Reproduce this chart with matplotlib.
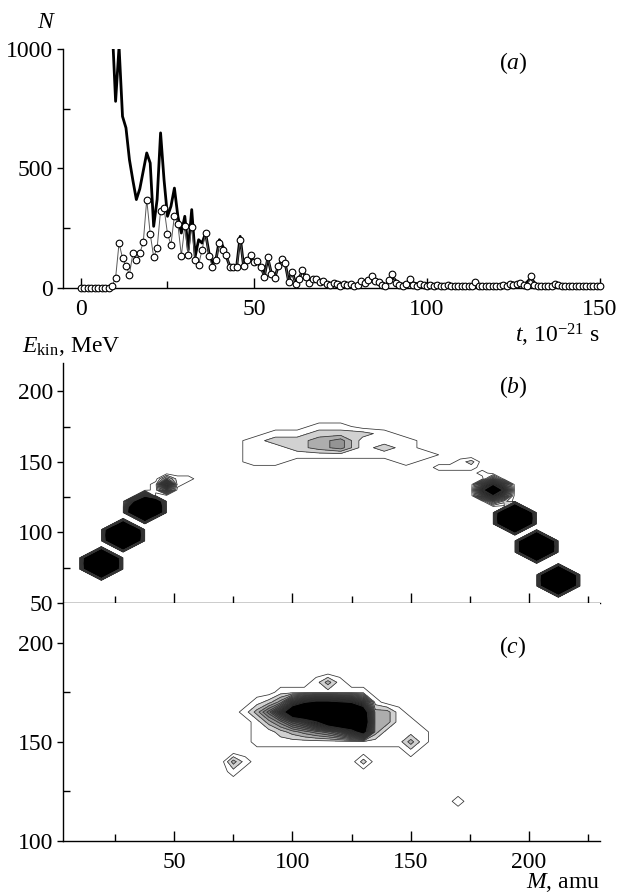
import numpy as np
import matplotlib
matplotlib.use("Agg")
import matplotlib.pyplot as plt
from matplotlib.ticker import MultipleLocator

plt.rcParams["font.family"] = "Liberation Serif"
plt.rcParams["mathtext.fontset"] = "custom"
plt.rcParams["mathtext.rm"] = "Liberation Serif"
plt.rcParams["mathtext.it"] = "Liberation Serif:italic"
plt.rcParams["font.size"] = 17

# ---- panel (a): number of events vs time ----
circ_t = np.arange(0, 151)
circ_n = [0, 0, 0, 0, 0, 0, 0, 0, 0, 10,
          42, 188, 125, 93, 56, 146, 116, 146, 191, 370,
          227, 130, 166, 324, 335, 227, 181, 303, 268, 135,
          258, 139, 254, 118, 98, 160, 230, 135, 86, 118,
          188, 160, 139, 86, 86, 86, 202, 93, 118, 139,
          107, 112, 88, 46, 130, 60, 42, 91, 121, 105,
          25, 66, 18, 38, 74, 46, 21, 38, 38, 25,
          30, 18, 14, 20, 18, 10, 15, 12, 18, 10,
          14, 28, 20, 35, 52, 30, 24, 12, 10, 32,
          60, 22, 14, 10, 18, 38, 14, 10, 16, 12,
          10, 14, 8, 12, 10, 8, 12, 10, 8, 8,
          10, 8, 8, 10, 24, 10, 7, 7, 7, 8,
          7, 10, 14, 10, 18, 12, 16, 21, 12, 10,
          52, 14, 7, 7, 7, 7, 10, 18, 12, 8,
          7, 8, 7, 10, 8, 7, 8, 10, 7, 8,
          10]

thick_t = [9, 10, 11, 12, 13, 14, 15, 16, 17, 18, 19, 20, 21, 22, 23, 24, 25,
           26, 27, 28, 29, 30, 31, 32, 33, 34, 35, 36, 37, 38, 39, 40, 41, 42,
           43, 44, 45, 46, 47, 48, 49, 50, 51, 52, 53, 54, 55, 56, 57, 58, 59,
           60, 61, 62, 63, 64, 65, 66, 67, 68, 70, 75, 80, 84, 86, 88, 90, 92,
           95, 100, 105, 110, 115, 120, 125, 128, 130, 132, 135, 140, 145, 150]
thick_n = [1100, 781, 1010, 718, 670, 537, 450, 370, 415, 490, 565, 523, 258,
           370, 649, 453, 300, 342, 418, 300, 230, 300, 160, 328, 132, 202,
           188, 230, 146, 105, 118, 202, 174, 132, 91, 91, 91, 216, 91, 118,
           132, 105, 105, 91, 49, 125, 63, 42, 91, 118, 105, 28, 70, 21, 42,
           70, 49, 28, 30, 42, 20, 12, 12, 40, 20, 10, 48, 12, 25, 8, 8, 8,
           10, 6, 12, 10, 42, 5, 6, 6, 6, 8]

# ---- panel (b): fragment peaks (fine mass bins) ----
frag_mass = [19.2, 14.6, 19.2, 23.8, 14.6, 19.2, 23.8, 14.6, 19.2, 23.8, 19.2,
             28.4, 23.8, 28.4, 33, 23.8, 28.4, 33, 23.8, 28.4, 33, 28.4,
             37.6, 33, 37.6, 42.2, 33, 37.6, 42.2, 33, 37.6, 42.2, 37.6,
             46.8, 42.2, 46.8, 51.4, 46.8, 51.4, 56, 42.2,
             184.8, 180.2, 184.8, 189.4, 180.2, 184.8, 189.4, 180.2, 184.8, 189.4,
             184.8, 189.4,
             161.8, 166.4, 171, 175.6, 171, 175.6, 180.2,
             194, 189.4, 194, 198.6, 189.4, 194, 198.6, 189.4, 194, 198.6, 194,
             203.2, 198.6, 203.2, 207.8, 198.6, 203.2, 207.8, 198.6, 203.2, 207.8, 203.2,
             212.4, 207.8, 212.4, 217, 207.8, 212.4, 217, 207.8, 212.4, 217, 212.4]
frag_energy = [70, 74, 74, 74, 78, 78, 78, 82, 82, 82, 86,
               90, 94, 94, 94, 98, 98, 98, 102, 102, 102, 106,
               110, 114, 114, 114, 118, 118, 118, 122, 122, 122, 126,
               130, 134, 134, 134, 138, 138, 138, 130,
               122, 126, 126, 126, 130, 130, 130, 134, 134, 134,
               138, 122,
               146, 146, 146, 146, 150, 150, 142,
               102, 106, 106, 106, 110, 110, 110, 114, 114, 114, 118,
               82, 86, 86, 86, 90, 90, 90, 94, 94, 94, 98,
               58, 62, 62, 62, 66, 66, 66, 70, 70, 70, 74]
frag_count = [40, 40, 45, 40, 45, 50, 45, 40, 45, 40, 40,
              40, 40, 45, 40, 45, 50, 45, 40, 45, 40, 35,
              35, 35, 45, 40, 30, 45, 40, 15, 35, 30, 12,
              8, 1, 14, 1, 4, 1, 1, 1,
              5, 8, 14, 8, 12, 30, 12, 8, 14, 8,
              5, 2,
              1, 1, 1, 1, 1, 2, 1,
              40, 40, 45, 40, 45, 50, 45, 40, 45, 40, 35,
              40, 40, 45, 40, 45, 50, 45, 40, 45, 40, 40,
              40, 40, 45, 40, 45, 50, 45, 40, 45, 40, 40]

# ---- panel (b): central (symmetric) region, coarse mass bins ----
mid_mass = [111.2, 120.4,
            92.8, 102, 111.2, 120.4, 129.6, 138.8,
            83.6, 92.8, 102, 111.2, 120.4, 129.6, 138.8, 148,
            83.6, 92.8, 102, 111.2, 120.4, 129.6, 138.8, 148,
            83.6, 92.8, 102, 111.2, 120.4, 129.6, 138.8, 148, 157.2,
            83.6, 92.8, 148]
mid_energy = [175, 175,
              170, 170, 170, 170, 170, 170,
              165, 165, 165, 165, 165, 165, 165, 165,
              160, 160, 160, 160, 160, 160, 160, 160,
              155, 155, 155, 155, 155, 155, 155, 155, 155,
              150, 150, 150]
mid_count = [1, 1,
             1, 1, 2, 2, 2, 1,
             1, 2, 2, 3, 4, 1, 1, 1,
             1, 1, 2, 3, 4, 1, 2, 1,
             1, 1, 1, 1, 1, 1, 1, 1, 1,
             1, 1, 1]

# ---- panel (c): E_kin vs M, non-empty histogram cells ----
c_mass = [110, 115, 120,
          95, 100, 105, 110, 115, 120, 125, 130,
          85, 90, 95, 100, 105, 110, 115, 120, 125, 130, 135,
          80, 85, 90, 95, 100, 105, 110, 115, 120, 125, 130, 135, 140, 145,
          85, 90, 95, 100, 105, 110, 115, 120, 125, 130, 135, 140, 145, 150,
          85, 90, 95, 100, 105, 110, 115, 120, 125, 130, 135, 140, 145, 150, 155,
          85, 90, 95, 100, 105, 110, 115, 120, 125, 130, 135, 140, 145, 150, 155,
          150, 75, 80, 130, 75, 170]
c_energy = [180, 180, 180,
            175, 175, 175, 175, 175, 175, 175, 175,
            170, 170, 170, 170, 170, 170, 170, 170, 170, 170, 170,
            165, 165, 165, 165, 165, 165, 165, 165, 165, 165, 165, 165, 165, 165,
            160, 160, 160, 160, 160, 160, 160, 160, 160, 160, 160, 160, 160, 160,
            155, 155, 155, 155, 155, 155, 155, 155, 155, 155, 155, 155, 155, 155, 155,
            150, 150, 150, 150, 150, 150, 150, 150, 150, 150, 150, 150, 150, 150, 150,
            145, 140, 140, 140, 135, 120]
c_count = [1, 3, 1,
           1, 1, 1, 1, 1, 1, 1, 1,
           1, 2, 4, 10, 14, 16, 16, 15, 14, 10, 1,
           1, 3, 6, 11, 22, 26, 28, 28, 28, 26, 20, 3, 3, 1,
           1, 3, 5, 8, 10, 14, 20, 24, 24, 22, 3, 3, 1, 1,
           1, 1, 2, 3, 4, 5, 6, 8, 12, 18, 3, 1, 1, 1, 1,
           1, 1, 1, 1, 1, 1, 1, 1, 1, 1, 1, 1, 1, 3, 1,
           1, 3, 1, 2, 1, 1]


def build_grid(m_nodes, e_nodes, ms, es, cs):
    z = np.zeros((len(e_nodes), len(m_nodes)))
    for m, e, c in zip(ms, es, cs):
        i = np.argmin(np.abs(e_nodes - e))
        j = np.argmin(np.abs(m_nodes - m))
        z[i, j] = c
    return z


levels = np.arange(0.5, 15, 1.0)
fill_colors = ["white", "0.82", "0.68", "0.58", "0.5", "0.43", "0.37", "0.31",
               "0.26", "0.21", "0.17", "0.13", "0.09", "0.05", "black"]


def draw_map(ax, m_nodes, e_nodes, z):
    ax.contourf(m_nodes, e_nodes, z, levels=levels, colors=fill_colors, extend="max")
    ax.contour(m_nodes, e_nodes, z, levels=levels, colors="0.2", linewidths=0.55)


def style(ax):
    ax.spines["top"].set_visible(False)
    ax.spines["right"].set_visible(False)
    ax.spines["left"].set_linewidth(1.0)
    ax.spines["bottom"].set_linewidth(1.0)
    ax.tick_params(axis="x", which="major", direction="in", length=7, width=1, pad=8)
    ax.tick_params(axis="x", which="minor", direction="in", length=5, width=1)
    ax.tick_params(axis="y", which="major", direction="out", length=4, width=1, pad=3)
    ax.tick_params(axis="y", which="minor", direction="in", length=5, width=1)


fig = plt.figure(figsize=(6.21, 8.96), dpi=100)
W, H = 621, 896
ax_a = fig.add_axes([63 / W, 1 - 288 / H, 537 / W, 239 / H])
ax_b = fig.add_axes([63 / W, 1 - 603 / H, 537 / W, 240 / H])
ax_c = fig.add_axes([63 / W, 1 - 841 / H, 537 / W, 238 / H])

# panel (a)
ax_a.plot(thick_t, thick_n, color="black", lw=2.0, zorder=3)
ax_a.plot(circ_t, circ_n, color="0.35", lw=0.7, marker="o", ms=4.8,
          mfc="white", mec="black", mew=0.8, zorder=4, clip_on=False)
ax_a.set_xlim(-5.2, 150)
ax_a.set_ylim(0, 1000)
ax_a.xaxis.set_major_locator(MultipleLocator(50))
ax_a.xaxis.set_minor_locator(MultipleLocator(25))
ax_a.yaxis.set_major_locator(MultipleLocator(500))
ax_a.yaxis.set_minor_locator(MultipleLocator(250))
style(ax_a)

# panel (b)
fine_m = np.arange(0.8, 236, 4.6)
fine_e = np.arange(42, 230, 4.0)
draw_map(ax_b, fine_m, fine_e,
         build_grid(fine_m, fine_e, frag_mass, frag_energy, frag_count))
coarse_m = np.arange(0.8, 236, 9.2)
coarse_e = np.arange(40, 230, 5.0)
draw_map(ax_b, coarse_m, coarse_e,
         build_grid(coarse_m, coarse_e, mid_mass, mid_energy, mid_count))
ax_b.set_xlim(3, 230)
ax_b.set_ylim(50, 220)
ax_b.xaxis.set_major_locator(MultipleLocator(50))
ax_b.xaxis.set_minor_locator(MultipleLocator(25))
ax_b.yaxis.set_major_locator(MultipleLocator(50))
ax_b.yaxis.set_minor_locator(MultipleLocator(25))
style(ax_b)
ax_b.tick_params(labelbottom=False)

# panel (c)
c_m_nodes = np.arange(0, 245, 5.0)
c_e_nodes = np.arange(95, 230, 5.0)
draw_map(ax_c, c_m_nodes, c_e_nodes,
         build_grid(c_m_nodes, c_e_nodes, c_mass, c_energy, c_count))
ax_c.set_xlim(3, 230)
ax_c.set_ylim(100, 220)
ax_c.xaxis.set_major_locator(MultipleLocator(50))
ax_c.xaxis.set_minor_locator(MultipleLocator(25))
ax_c.yaxis.set_major_locator(MultipleLocator(50))
ax_c.yaxis.set_minor_locator(MultipleLocator(25))
style(ax_c)

# labels
fig.text(47 / W, 1 - 23 / H, "$N$", ha="center", va="center")
fig.text(513 / W, 1 - 63 / H, "($a$)", ha="center", va="center")
fig.text(600 / W, 1 - 335 / H, "$t$, 10$^{-21}$ s", ha="right", va="center")
fig.text(22 / W, 1 - 347 / H, r"$E_{\rm kin}$, MeV", ha="left", va="center")
fig.text(513 / W, 1 - 387 / H, "($b$)", ha="center", va="center")
fig.text(513 / W, 1 - 647 / H, "($c$)", ha="center", va="center")
fig.text(600 / W, 2 / H, "$M$, amu", ha="right", va="bottom")

fig.savefig("out.png", dpi=100)
